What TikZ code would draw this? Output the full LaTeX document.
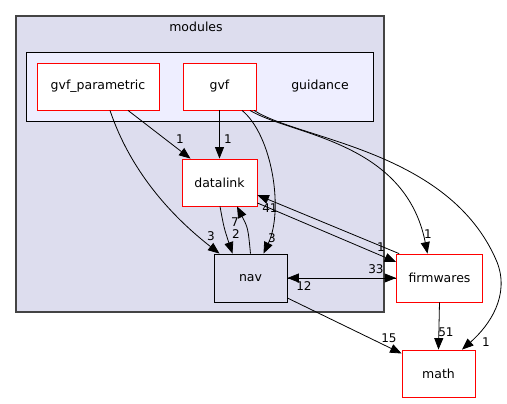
\documentclass[tikz,border=0pt]{standalone}
\usepackage{fontspec}
\setmainfont{DejaVu Sans}
\usetikzlibrary{arrows.meta, positioning, calc}
\definecolor{clusterbg}{HTML}{DDDDEE}
\definecolor{innerbg}{HTML}{EEEEFF}
\definecolor{clusterline}{HTML}{444444}

\begin{document}
\begin{tikzpicture}[x=1pt, y=-1pt,
    dirnode/.style={draw=red, fill=white, line width=0.8pt, minimum height=47pt, inner sep=0pt, font=\fontsize{12.5}{15}\selectfont},
    leafnode/.style={dirnode, draw=black, fill=clusterbg},
    dep/.style={line width=0.8pt, -{Triangle[length=11.5pt, width=9pt]}},
    cnt/.style={inner sep=0pt, font=\fontsize{12}{14}\selectfont},
    title/.style={inner sep=0pt, font=\fontsize{12.5}{15}\selectfont}]
    \useasboundingbox (0,0) rectangle (507,404);

    % Cluster modules
    \draw[clusterline, fill=clusterbg, line width=1.2pt] (16,16) rectangle (384,312);
    \node[title] (modules) at (196,27) {modules};

    % Cluster guidance
    \draw[fill=innerbg, line width=0.9pt] (26,52) rectangle (373,121);
    \node[title] (guidance) at (320,86) {guidance};

    % Directories
    \node[dirnode, minimum width=122pt] (gvfp) at (98,86.5) {gvf\_parametric};
    \node[dirnode, minimum width=73pt] (gvf) at (219.5,86.5) {gvf};
    \node[dirnode, minimum width=75pt] (datalink) at (219.5,182.5) {datalink};
    \node[leafnode, minimum width=73pt, minimum height=48pt] (nav) at (250.5,278) {nav};
    \node[dirnode, minimum width=86pt, minimum height=48pt] (firmwares) at (439.5,278) {firmwares};
    \node[dirnode, minimum width=73pt] (math) at (438.5,373.5) {math};
    \coordinate (bend) at (497,262);

    % Dependencies
    \draw[dep] ($(gvfp.south)+(30,0)$) -- ($(datalink.north)+(-29,0)$);
    \draw[dep] (gvf.south) -- (datalink.north);
    \draw[dep] ($(gvfp.south)+(12,0)$) .. controls (130,170) and (170,215) .. ($(nav.north)+(-31,0)$);
    \draw[dep] ($(gvf.south)+(22.5,0)$) .. controls (272,135) and (284,210) .. ($(nav.north)+(13,0)$);
    \draw[dep] ($(gvf.south)+(30.5,0)$) .. controls (290,135) and (405,140) .. ($(firmwares.north)+(-12,0)$);
    \draw[dep] ($(gvf.south)+(34.5,0)$) .. controls (300,140) and (450,150) .. (bend)
        .. controls (510,295) and (490,325) .. ($(math.north)+(23.5,0)$);
    \draw[dep] ($(datalink.south)+(0.5,0)$) .. controls (224,228) .. ($(nav.north)+(-18,0)$);
    \draw[dep] (nav.north) .. controls (248,228) .. ($(datalink.south)+(17.5,0)$);
    \draw[dep] ($(firmwares.north west)+(3,0)$) -- ($(datalink.east)+(0,12.5)$);
    \draw[dep] ($(datalink.east)+(0,20.5)$) -- ($(firmwares.west)+(0,-16)$);
    \draw[dep] (nav.east) -- (firmwares.west);
    \draw[dep] (firmwares.west) -- (nav.east);
    \draw[dep] ($(nav.east)+(0,20)$) -- ($(math.west)+(0,-20)$);
    \draw[dep] (firmwares.south) -- (math.north);

    % Counts
    \node[cnt] (c-gvfp-dl) at (180,139) {1};
    \node[cnt] (c-gvf-dl) at (228,139) {1};
    \node[cnt] (c-gvfp-nav) at (211,236) {3};
    \node[cnt] (c-gvf-nav) at (272,238) {3};
    \node[cnt] (c-gvf-fw) at (428,234) {1};
    \node[cnt] (c-gvf-math) at (486,342) {1};
    \node[cnt] (c-nav-dl) at (235,222) {7};
    \node[cnt] (c-dl-nav) at (236,234) {2};
    \node[cnt] (c-fw-dl) at (270,208) {41};
    \node[cnt] (c-dl-fw) at (381,247) {1};
    \node[cnt] (c-nav-fw) at (376,269) {33};
    \node[cnt] (c-fw-nav) at (304,286) {12};
    \node[cnt] (c-nav-math) at (389,338) {15};
    \node[cnt] (c-fw-math) at (446,332) {51};
\end{tikzpicture}
\end{document}
